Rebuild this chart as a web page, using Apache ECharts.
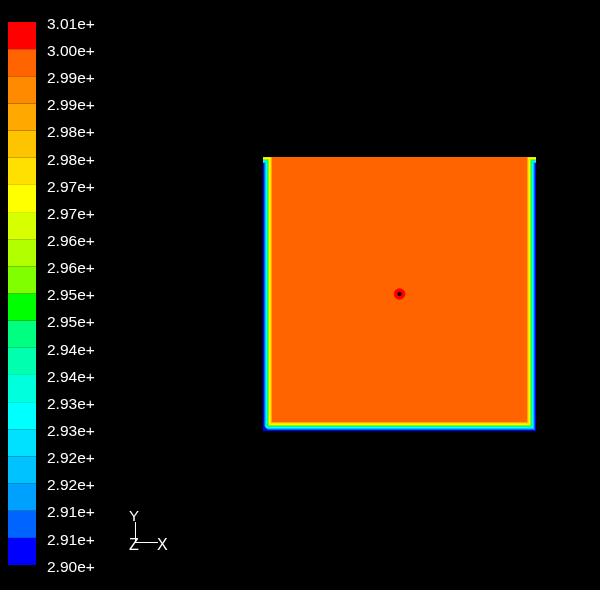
<!DOCTYPE html>
<html><head><meta charset="utf-8">
<script src="https://cdn.jsdelivr.net/npm/echarts@6/dist/echarts.min.js"></script>
<style>html,body{margin:0;padding:0;background:#000;}#c{width:600px;height:590px;}</style>
</head><body><div id="c"></div>
<script>
// contour levels (K), bottom to top, and their labels
const levels = [290.00, 290.55, 291.10, 291.65, 292.20, 292.75, 293.30, 293.85, 294.40, 294.95, 295.50,
                296.05, 296.60, 297.15, 297.70, 298.25, 298.80, 299.35, 299.90, 300.45, 301.00];
const tickLabels = ['2.90e+','2.91e+','2.91e+','2.92e+','2.92e+','2.93e+','2.93e+','2.94e+','2.94e+','2.95e+','2.95e+',
                    '2.96e+','2.96e+','2.97e+','2.97e+','2.98e+','2.98e+','2.99e+','2.99e+','3.00e+','3.01e+'];
// band colours, bottom (lowest) to top (highest)
const bandColors = ['#0000FF','#0064FF','#00A0FF','#00C2FF','#00E0FF','#00FFFF','#00FFDC','#00FFAE','#00FF80','#00FF00',
                    '#80FF00','#B2FF00','#D8FF00','#FFFF00','#FFE000','#FFC400','#FFA800','#FF8A00','#FF6400','#FF0000'];
// temperature profile away from the left / right / bottom walls (distance as fraction of box size)
const wallDist = [0, 0.0037, 0.0073, 0.0110, 0.0147, 0.0183, 0.0220, 0.0256, 0.0293, 0.0330];
const wallTemp = [290.2, 290.8, 291.9, 293.0, 294.7, 295.8, 297.4, 298.2, 299.0, 300.1];
// how far below the hot top wall each near-wall layer ends
const topGap = [0.022, 0.022, 0.018, 0.0146, 0.011, 0.0073, 0.0036, 0, 0, 0];
// cold bottom-left corner
const cornerSize = 0.022;
const cornerTemp = 290.1;
// hot spot at box centre
const hotCenter = [0.5, 0.5];
const hotRadius = [0.021, 0.008];
const hotTemp = [300.7, 301.6];

const chart = echarts.init(document.getElementById('c'), null, {renderer: 'canvas'});

function nearestLabel(v) {
  let best = 0;
  for (let i = 1; i < levels.length; i++) if (Math.abs(levels[i] - v) < Math.abs(levels[best] - v)) best = i;
  return tickLabels[best];
}

function rectItem(params, api) {
  const p0 = api.coord([api.value(0), api.value(1)]);
  const p1 = api.coord([api.value(2), api.value(3)]);
  return {type: 'rect', shape: {x: p0[0], y: p1[1], width: p1[0] - p0[0], height: p0[1] - p1[1]},
          style: {fill: api.visual('color')}};
}

// field: hot interior everywhere, then near-wall layers painted from warm to cold
const n = wallTemp.length;
const fieldData = [[0, 0, 1, 1, wallTemp[n - 1]]];
for (let i = n - 2; i >= 0; i--) {
  const d = wallDist[i + 1], g = topGap[i], t = wallTemp[i];
  fieldData.push([0, 0, d, 1 - g, t]);
  fieldData.push([1 - d, 0, 1, 1 - g, t]);
  fieldData.push([0, 0, 1, d, t]);
}
const cornerData = [[0, 0, cornerSize, cornerSize, cornerTemp]];
const hotData = hotRadius.map((r, i) => [hotCenter[0], hotCenter[1], r, r, hotTemp[i]]);
const barData = bandColors.map((c, i) => [0, levels[i], 1, levels[i + 1], (levels[i] + levels[i + 1]) / 2]);

const pieces = bandColors.map((c, i) => i === bandColors.length - 1
  ? {gte: levels[i], lte: levels[i + 1], color: c}
  : {gte: levels[i], lt: levels[i + 1], color: c});

const FONT = 'Liberation Sans, Arial, sans-serif';

chart.setOption({
  backgroundColor: '#000',
  animation: false,
  grid: [
    {left: 263, top: 157, width: 273, height: 274},
    {left: 8, top: 22, width: 28, height: 543},
    {left: 8, top: 24.5, width: 28, height: 543}
  ],
  xAxis: [
    {gridIndex: 0, type: 'value', min: 0, max: 1, show: false},
    {gridIndex: 1, type: 'value', min: 0, max: 1, show: false},
    {gridIndex: 2, type: 'value', min: 0, max: 1, show: false}
  ],
  yAxis: [
    {gridIndex: 0, type: 'value', min: 0, max: 1, show: false},
    {gridIndex: 1, type: 'value', min: 290, max: 301, show: false},
    {gridIndex: 2, type: 'value', min: 290, max: 301, position: 'right',
     axisLine: {show: false}, axisTick: {show: false}, splitLine: {show: false},
     axisLabel: {customValues: levels, color: '#fff', fontSize: 15.5, fontFamily: FONT,
                 margin: 11, formatter: v => nearestLabel(v)}}
  ],
  visualMap: {type: 'piecewise', show: false, dimension: 4, seriesIndex: [0, 1, 2, 3],
              pieces: pieces, outOfRange: {color: '#1a0000'}},
  series: [
    {type: 'custom', coordinateSystem: 'cartesian2d', xAxisIndex: 0, yAxisIndex: 0,
     encode: {x: [0, 2], y: [1, 3]}, renderItem: rectItem, data: fieldData, silent: true},
    {type: 'custom', coordinateSystem: 'cartesian2d', xAxisIndex: 0, yAxisIndex: 0, z: 3,
     encode: {x: [0, 2], y: [1, 3]},
     renderItem: function (params, api) {
       const a = api.coord([api.value(0), api.value(1)]);
       const b = api.coord([api.value(2), api.value(1)]);
       const c = api.coord([api.value(0), api.value(3)]);
       return {type: 'polygon', shape: {points: [a, b, c]}, style: {fill: api.visual('color')}};
     }, data: cornerData, silent: true},
    {type: 'custom', coordinateSystem: 'cartesian2d', xAxisIndex: 0, yAxisIndex: 0, z: 3,
     encode: {x: 0, y: 1},
     renderItem: function (params, api) {
       const c = api.coord([api.value(0), api.value(1)]);
       const r = api.size([api.value(2), 0])[0];
       return {type: 'circle', shape: {cx: c[0], cy: c[1], r: r}, style: {fill: api.visual('color')}};
     }, data: hotData, silent: true},
    {type: 'custom', coordinateSystem: 'cartesian2d', xAxisIndex: 1, yAxisIndex: 1,
     encode: {x: [0, 2], y: [1, 3]}, renderItem: rectItem, data: barData, silent: true}
  ],
  graphic: [
    {type: 'line', shape: {x1: 135.5, y1: 522, x2: 135.5, y2: 543}, style: {stroke: '#fff', lineWidth: 1}},
    {type: 'line', shape: {x1: 135.5, y1: 542.5, x2: 158, y2: 542.5}, style: {stroke: '#fff', lineWidth: 1}},
    {type: 'text', left: 129, top: 509, style: {text: 'Y', fill: '#fff', font: '15px ' + FONT}},
    {type: 'text', left: 129, top: 538, style: {text: 'Z', fill: '#fff', font: '16px ' + FONT}},
    {type: 'text', left: 157, top: 538, style: {text: 'X', fill: '#fff', font: '16px ' + FONT}}
  ]
});
</script></body></html>
